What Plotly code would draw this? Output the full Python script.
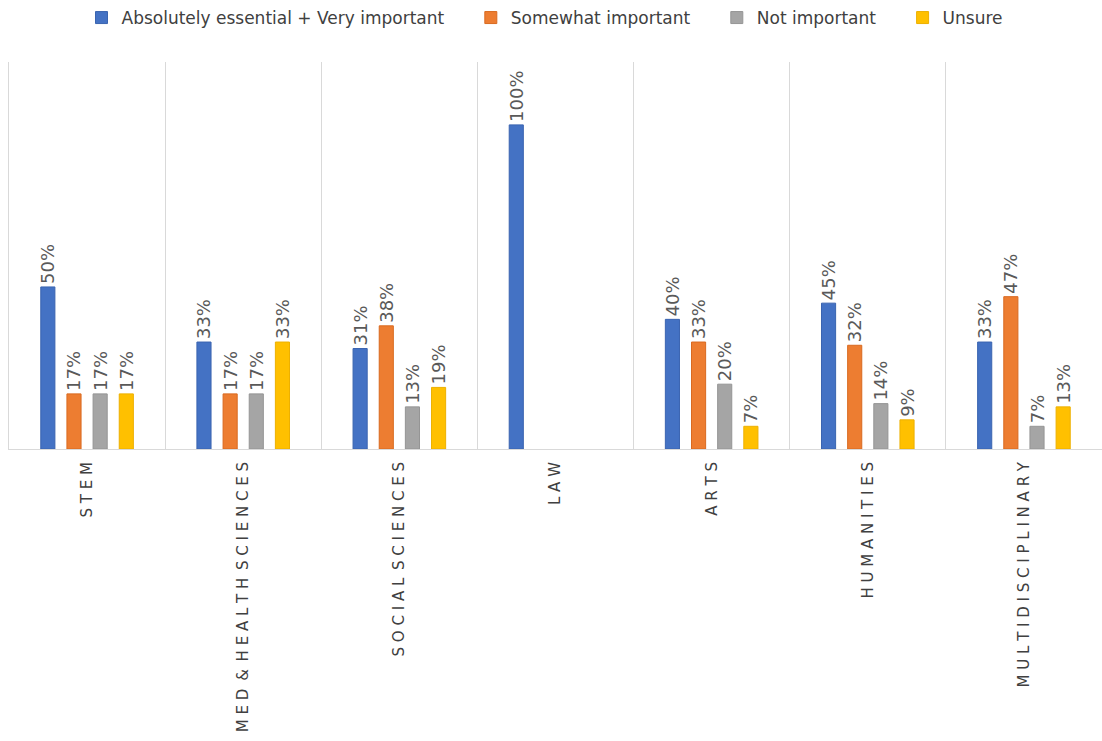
import plotly.graph_objects as go

# Survey results by discipline (percent of respondents)
categories = ["STEM", "MED & HEALTH SCIENCES", "SOCIAL SCIENCES", "LAW",
              "ARTS", "HUMANITIES", "MULTIDISCIPLINARY"]
essential = [50, 33, 31, 100, 40, 45, 33]
somewhat = [17, 17, 38, None, 33, 32, 47]
not_important = [17, 17, 13, None, 20, 14, 7]
unsure = [17, 33, 19, None, 7, 9, 13]

series = [
    ("Absolutely essential + Very important", essential, "#4472C4", "#3A64B0"),
    ("Somewhat important", somewhat, "#ED7D31", "#D96A20"),
    ("Not important", not_important, "#A5A5A5", "#959595"),
    ("Unsure", unsure, "#FFC000", "#EDB000"),
]

NBSP = "\u00a0"
THIN = "\u2009"


def spaced(name):
    # letter-spaced axis label
    words = name.split(" ")
    return (NBSP + THIN).join(NBSP.join(w) for w in words)


labels = [spaced(c) for c in categories]

fig = go.Figure()
for name, vals, color, edge in series:
    fig.add_trace(go.Bar(
        name=name + NBSP * 4,
        x=labels,
        y=vals,
        marker=dict(color=color, line=dict(color=edge, width=1)),
        text=[None if v is None else f"{v}%{NBSP}" for v in vals],
        textposition="outside",
        textangle=-90,
        constraintext="none",
        cliponaxis=False,
        textfont=dict(family="DejaVu Sans", size=18, color="#595959"),
    ))

fig.update_layout(
    width=1102,
    height=741,
    margin=dict(l=9, r=0, t=62, b=292),
    paper_bgcolor="white",
    plot_bgcolor="white",
    barmode="group",
    bargap=0.33,
    bargroupgap=0.46,
    showlegend=True,
    legend=dict(
        orientation="h",
        x=0.5, xanchor="center",
        yref="container", y=1, yanchor="top",
        font=dict(family="DejaVu Sans", size=17, color="#404040"),
        traceorder="normal",
    ),
    xaxis=dict(
        type="category",
        tickson="boundaries",
        showgrid=True,
        gridcolor="#D9D9D9",
        gridwidth=1,
        showline=True,
        linecolor="#D9D9D9",
        linewidth=1,
        ticks="outside",
        ticklen=20,
        tickcolor="rgba(0,0,0,0)",
        tickangle=-90,
        ticklabelstandoff=6,
        tickfont=dict(family="DejaVu Sans", size=15, color="#404040"),
    ),
    yaxis=dict(
        range=[0, 119.4],
        showgrid=False,
        zeroline=False,
        showticklabels=False,
        showline=True,
        linecolor="#D9D9D9",
        ticks="",
    ),
)

fig.write_html("out.html")
